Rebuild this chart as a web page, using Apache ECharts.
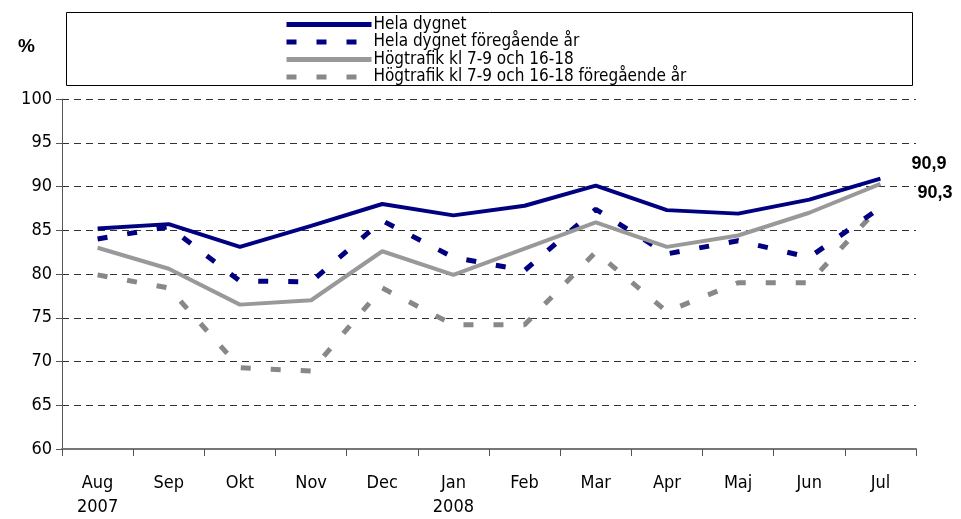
<html>
<head>
    <meta charset="utf-8">
    <title>Andel</title>
    <script src="https://cdn.jsdelivr.net/npm/echarts@6/dist/echarts.min.js"></script>
</head>
<body style="margin:0">
<div id="chartmain" style="width: 961px; height: 519px;"></div>
<script type="text/javascript">
    // data
    var months = ['Aug\n2007', 'Sep', 'Okt', 'Nov', 'Dec', 'Jan\n2008', 'Feb', 'Mar', 'Apr', 'Maj', 'Jun', 'Jul'];
    var helaDygnet = [85.2, 85.7, 83.1, 85.5, 88.0, 86.7, 87.8, 90.1, 87.3, 86.9, 88.5, 90.9];
    var helaDygnetFg = [84.0, 85.4, 79.2, 79.1, 86.1, 81.9, 80.4, 87.4, 82.3, 83.8, 81.9, 87.6];
    var hogtrafik = [83.0, 80.6, 76.5, 77.0, 82.6, 79.9, 82.9, 85.9, 83.1, 84.4, 87.0, 90.3];
    var hogtrafikFg = [79.9, 78.4, 69.3, 68.9, 78.4, 74.2, 74.2, 82.5, 75.7, 79.0, 79.0, 87.8];
    var yTicks = [60, 65, 70, 75, 80, 85, 90, 95, 100];

    var font = "'Liberation Sans Narrow', 'DejaVu Sans Condensed', 'Liberation Sans', Arial, sans-serif";

    // etikett vid sista punkten
    function endLbl(offset) {
        return {
            show: true, offset: offset,
            formatter: function (p) { return String(p.value).replace('.', ','); },
            fontFamily: 'Liberation Sans, Arial, sans-serif', fontWeight: 'bold', fontSize: 18, color: '#000'
        };
    }

    var myChart = echarts.init(document.getElementById('chartmain'));
    var option = {
        animation: false,
        backgroundColor: '#fff',
        textStyle: { fontFamily: font },
        grid: { left: 62, right: 45, top: 99, bottom: 67 },
        graphic: [
            { type: 'rect', shape: { x: 66.5, y: 12.5, width: 846, height: 73 },
              style: { fill: 'none', stroke: '#000', lineWidth: 1 } },
            { type: 'text', left: 18, top: 37,
              style: { text: '%', font: 'bold 19px Liberation Sans, Arial', fill: '#000' } }
        ],
        legend: {
            orient: 'vertical', left: 279, top: 11,
            itemWidth: 85, itemHeight: 12, itemGap: 0.5,
            itemStyle: { color: 'transparent', borderWidth: 0 },
            lineStyle: { width: 5 },
            textStyle: { fontFamily: font, fontSize: 17, lineHeight: 12, color: '#000', padding: [0, 0, 0, -3] },
            data: ['Hela dygnet', 'Hela dygnet föregående år', 'Högtrafik kl 7-9 och 16-18', 'Högtrafik kl 7-9 och 16-18 föregående år']
        },
        xAxis: {
            type: 'category', data: months, boundaryGap: true,
            axisLine: { lineStyle: { color: '#777', width: 2 } },
            axisTick: { show: true, length: 7, lineStyle: { color: '#555' } },
            axisLabel: { color: '#000', fontSize: 18, margin: 22, lineHeight: 24 }
        },
        yAxis: {
            type: 'value', min: 60, max: 100, interval: 5,
            axisLine: { show: true, lineStyle: { color: '#555', width: 1 } },
            axisTick: { show: true, length: 6, lineStyle: { color: '#555' } },
            axisLabel: { color: '#000', fontSize: 18, margin: 10,
                customValues: yTicks },
            splitLine: { lineStyle: { color: '#333', type: [7, 5], width: 1 } }
        },
        series: [
            { name: 'Hela dygnet', type: 'line', symbol: 'none', z: 5,
              data: helaDygnet, endLabel: endLbl([23, -15]),
              lineStyle: { color: '#000080', width: 4 }, itemStyle: { color: '#000080' } },
            { name: 'Hela dygnet föregående år', type: 'line', symbol: 'none', z: 3,
              data: helaDygnetFg,
              lineStyle: { color: '#000080', width: 5, type: [10, 20] }, itemStyle: { color: '#000080' } },
            { name: 'Högtrafik kl 7-9 och 16-18', type: 'line', symbol: 'none', z: 4,
              data: hogtrafik, endLabel: endLbl([29, 9]),
              lineStyle: { color: '#999999', width: 4 }, itemStyle: { color: '#999999' } },
            { name: 'Högtrafik kl 7-9 och 16-18 föregående år', type: 'line', symbol: 'none', z: 2,
              data: hogtrafikFg,
              lineStyle: { color: '#888888', width: 5, type: [10, 20] }, itemStyle: { color: '#888888' } }
        ]
    };
    myChart.setOption(option);
</script>
</body>
</html>
